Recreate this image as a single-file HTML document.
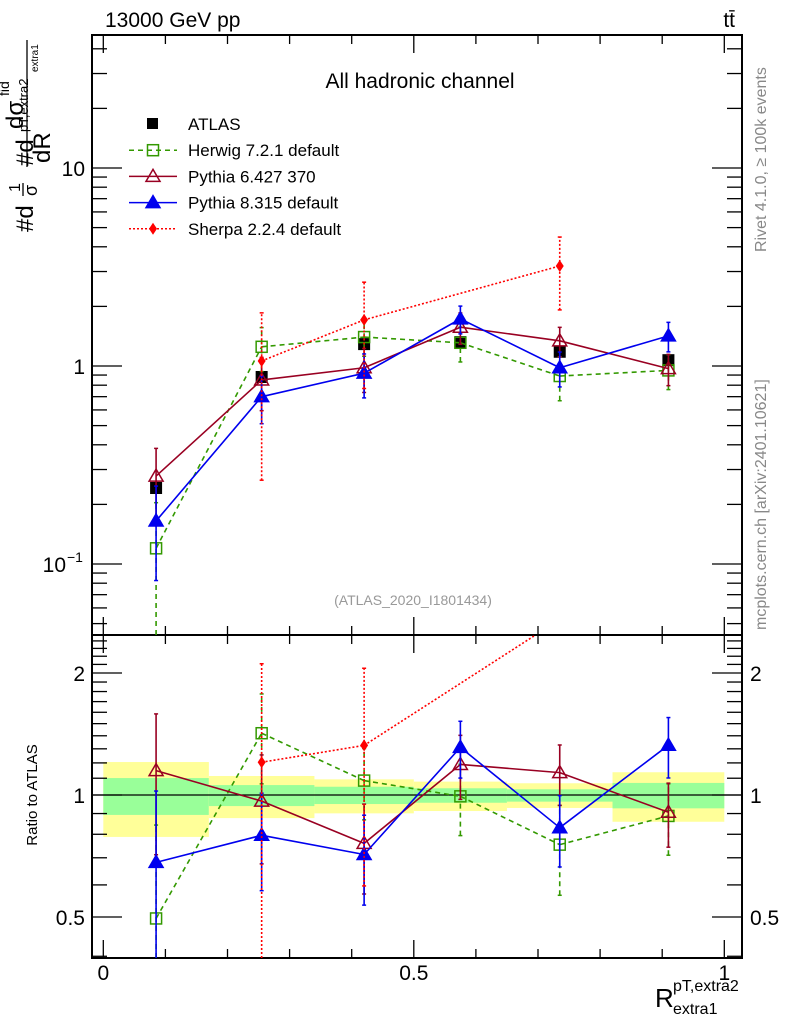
<!DOCTYPE html>
<html><head><meta charset="utf-8"><style>
html,body{margin:0;background:#fff;overflow:hidden;width:786px;height:1024px;}
svg{display:block;font-family:"Liberation Sans",sans-serif;}
</style></head><body>
<svg id="c" width="786" height="1024" viewBox="0 0 786 1024" xmlns="http://www.w3.org/2000/svg"></svg>
<script>
const xEdges=[0,0.17,0.34,0.5,0.65,0.82,1.0];
const xCenters=[0.085,0.255,0.42,0.575,0.735,0.91];
const atlasVals=[0.242,0.88,1.29,1.32,1.18,1.07];
const herwigVals=[0.12,1.25,1.40,1.31,0.89,0.95];
const herwigErr=[0.7,0.25,0.2,0.2,0.25,0.2];
const py6Vals=[0.278,0.85,0.98,1.57,1.34,0.97];
const py6Err=[0.38,0.3,0.25,0.18,0.17,0.18];
const py8Vals=[0.165,0.70,0.92,1.73,0.98,1.42];
const py8Err=[0.5,0.27,0.25,0.16,0.2,0.17];
const sherpaIdx=[1,2,4];
const sherpaVals=[1.06,1.71,3.2];
const sherpaErr=[0.75,0.55,0.4];
const bandYellowHi=[1.206,1.114,1.093,1.079,1.069,1.138];
const bandYellowLo=[0.788,0.877,0.901,0.913,0.929,0.859];
const bandGreenHi=[1.101,1.058,1.048,1.039,1.033,1.071];
const bandGreenLo=[0.893,0.939,0.950,0.957,0.963,0.927];
const xTickLabels=["0","0.5","1"];

const L=92,R=742,T=35,MB=635,B=958;
const X=v=>103.3+621*v;
const Ymain=v=>366-198*Math.log10(v);
const Yrat=v=>795-122*Math.log2(v);
const clampY=(y,a,b)=>Math.max(a,Math.min(b,y));
const NS="http://www.w3.org/2000/svg";
const svg=document.getElementById('c');
function el(tag,attrs,parent){const e=document.createElementNS(NS,tag);for(const k in attrs)e.setAttribute(k,attrs[k]);(parent||svg).appendChild(e);return e;}
function txt(s,attrs,parent){const e=el('text',attrs,parent);e.textContent=s;return e;}

const defs=el('defs',{});
const c1=el('clipPath',{id:'cm'},defs);el('rect',{x:L,y:T,width:R-L,height:MB-T},c1);
const c2=el('clipPath',{id:'cr'},defs);el('rect',{x:L,y:MB,width:R-L,height:B-MB},c2);

const bands=el('g',{'clip-path':'url(#cr)'});


for(let i=0;i<6;i++){
  const y=el('rect',{x:X(xEdges[i]),y:Yrat(bandYellowHi[i]),width:X(xEdges[i+1])-X(xEdges[i]),height:Yrat(bandYellowLo[i])-Yrat(bandYellowHi[i]),fill:'#ffff99'},bands);
  
  
  const g=el('rect',{x:X(xEdges[i]),y:Yrat(bandGreenHi[i]),width:X(xEdges[i+1])-X(xEdges[i]),height:Yrat(bandGreenLo[i])-Yrat(bandGreenHi[i]),fill:'#99ff99'},bands);
  
  
}
el('line',{x1:L,x2:R,y1:Yrat(1),y2:Yrat(1),stroke:'#000','stroke-width':1.2},bands);

function frame(top,bot,name){
  const f=el('rect',{x:L,y:top,width:R-L,height:bot-top,fill:'none',stroke:'#000','stroke-width':2});
  
  
  for(let k=0;k<=10;k++){
    const xv=X(k/10),len=(k%5==0)?18:9;
    el('line',{x1:xv,x2:xv,y1:bot,y2:bot-len,stroke:'#000','stroke-width':1.3});
    el('line',{x1:xv,x2:xv,y1:top,y2:top+len,stroke:'#000','stroke-width':1.3});
  }
}
frame(T,MB,'main-plot-frame');frame(MB,B,'ratio-plot-frame');
for(let d=-2;d<=1;d++){for(let m=1;m<=9;m++){const v=m*Math.pow(10,d);const y=Ymain(v);if(y<T||y>MB)continue;const len=m==1?30:15;
 el('line',{x1:L,x2:L+len,y1:y,y2:y,stroke:'#000','stroke-width':1.3});el('line',{x1:R,x2:R-len,y1:y,y2:y,stroke:'#000','stroke-width':1.3});}}
for(let v=0.4;v<=2.5;v+=0.1){const y=Yrat(v);if(y<MB||y>B)continue;const maj=Math.abs(v-1)<1e-6||Math.abs(v-2)<1e-6||Math.abs(v-0.5)<1e-6;const len=maj?30:15;
 el('line',{x1:L,x2:L+len,y1:y,y2:y,stroke:'#000','stroke-width':1.3});el('line',{x1:R,x2:R-len,y1:y,y2:y,stroke:'#000','stroke-width':1.3});}

const yl=el('g',{'font-size':21});


txt('10',{x:85,y:Ymain(10)+8,'text-anchor':'end'},yl);
txt('1',{x:85,y:Ymain(1)+8,'text-anchor':'end'},yl);
txt('10',{x:66,y:Ymain(0.1)+8,'text-anchor':'end'},yl);
txt('−1',{x:67,y:Ymain(0.1)-2,'font-size':14},yl);
txt('2',{x:85,y:Yrat(2)+8,'text-anchor':'end'},yl);
txt('1',{x:85,y:Yrat(1)+8,'text-anchor':'end'},yl);
txt('0.5',{x:85,y:Yrat(0.5)+8,'text-anchor':'end'},yl);
txt('2',{x:750,y:Yrat(2)+8},yl);
txt('1',{x:750,y:Yrat(1)+8},yl);
txt('0.5',{x:750,y:Yrat(0.5)+8},yl);
const xl=el('g',{'font-size':21,'text-anchor':'middle'});


[0,0.5,1].forEach((v,i)=>txt(xTickLabels[i],{x:X(v),y:980},xl));

function drawSeries(name,idx,vals,err,color,dash,marker,Y,clip,isRatio,yMin,yMax){
  const g=el('g',{'clip-path':clip});
  
  
  const pts=idx.map((b,i)=>{const v=isRatio?vals[i]/atlasVals[b]:vals[i];return [X(xCenters[b]),Y(v),v];});
  // line segments clipped to panel range
  const lp=[];
  for(let i=0;i<pts.length;i++){
    const p=pts[i];
    if(i>0){const q=pts[i-1];
      let x1=q[0],y1=q[1],x2=p[0],y2=p[1];
      const fit=(xa,ya,xb,yb,yy)=>xa+(xb-xa)*(yy-ya)/(yb-ya);
      if(y2<yMin){x2=fit(x1,y1,x2,y2,yMin);y2=yMin;}
      if(y1<yMin){x1=fit(x1,y1,p[0],p[1],yMin);y1=yMin;}
      if(y2>yMax){x2=fit(x1,y1,x2,y2,yMax);y2=yMax;}
      if(y1>yMax){x1=fit(q[0],q[1],p[0],p[1],yMax);y1=yMax;}
      lp.push(`M${x1},${y1}L${x2},${y2}`);
    }
  }
  const pl=el('path',{d:lp.join(''),fill:'none',stroke:color,'stroke-width':1.6,'stroke-dasharray':dash},g);
  
  
  pts.forEach((p,i)=>{
    if(p[1]<yMin||p[1]>yMax)return;
    const lo=clampY(Y(p[2]*Math.max(1-err[i],0.01)),yMin,yMax),hi=clampY(Y(p[2]*(1+err[i])),yMin,yMax);
    el('line',{x1:p[0],x2:p[0],y1:lo,y2:hi,stroke:color,'stroke-width':1.6,'stroke-dasharray':dash},g);
    if(lo<yMax)el('line',{x1:p[0]-2,x2:p[0]+2,y1:lo,y2:lo,stroke:color,'stroke-width':1.5},g);
    if(hi>yMin)el('line',{x1:p[0]-2,x2:p[0]+2,y1:hi,y2:hi,stroke:color,'stroke-width':1.5},g);
    const m=marker(p[0],p[1],g);
    
    
  });
}
const sq=(c,fill)=>(x,y,g)=>el('rect',{x:x-5.5,y:y-5.5,width:11,height:11,fill:fill,stroke:c,'stroke-width':1.5},g);
const tri=(c,fill)=>(x,y,g)=>el('polygon',{points:`${x},${y-7} ${x-7},${y+5} ${x+7},${y+5}`,fill:fill,stroke:c,'stroke-width':1.5},g);
const dia=c=>(x,y,g)=>el('polygon',{points:`${x},${y-6} ${x-4},${y} ${x},${y+6} ${x+4},${y}`,fill:c},g);
const all=[0,1,2,3,4,5];
const ag=el('g',{});


atlasVals.forEach((v,i)=>{const r=el('rect',{x:X(xCenters[i])-6,y:Ymain(v)-6,width:12,height:12,fill:'#000'},ag);
 
 });
[['main','#cm',Ymain,false,T,MB],['ratio','#cr',Yrat,true,MB,B]].forEach(([n,c,Y,r,a,b])=>{
  drawSeries('herwig-'+n,all,herwigVals,herwigErr,'#339900','5,4',sq('#339900','none'),Y,`url(${c})`,r,a,b);
  drawSeries('pythia6-'+n,all,py6Vals,py6Err,'#990022','',tri('#990022','none'),Y,`url(${c})`,r,a,b);
  drawSeries('pythia8-'+n,all,py8Vals,py8Err,'#0000ee','',tri('#0000ee','#0000ee'),Y,`url(${c})`,r,a,b);
  drawSeries('sherpa-'+n,sherpaIdx,sherpaVals,sherpaErr,'#ff0000','2,2',dia('#ff0000'),Y,`url(${c})`,r,a,b);
});

const lg=el('g',{'font-size':17});


const ent=[['ATLAS'],['Herwig 7.2.1 default','#339900','5,4',sq('#339900','none')],['Pythia 6.427 370','#990022','',tri('#990022','none')],['Pythia 8.315 default','#0000ee','',tri('#0000ee','#0000ee')],['Sherpa 2.2.4 default','#ff0000','2,2',dia('#ff0000')]];
ent.forEach((e,i)=>{const y=124+i*26.2;const g=el('g',{},lg);
 
 
 if(i==0)el('rect',{x:147,y:y-6,width:11,height:11,fill:'#000'},g);
 else{el('line',{x1:129,x2:177,y1:y,y2:y,stroke:e[1],'stroke-width':1.5,'stroke-dasharray':e[2]},g);e[3](153,y,g);}
 txt(e[0],{x:188,y:y+6},g);});

const title=txt('13000 GeV pp',{x:105,y:27,'font-size':21});


const tt=txt('tt̄',{x:735,y:27,'font-size':21,'text-anchor':'end'});


const ch=txt('All hadronic channel',{x:420,y:88,'font-size':21,'text-anchor':'middle'});


const an=txt('(ATLAS_2020_I1801434)',{x:413,y:605,'font-size':14,fill:'#999','text-anchor':'middle'});


const rv=txt('Rivet 4.1.0, ≥ 100k events',{x:0,y:0,'font-size':16,fill:'#888',transform:'translate(766,252) rotate(-90)'});


const mc=txt('mcplots.cern.ch [arXiv:2401.10621]',{x:0,y:0,'font-size':16,fill:'#888',transform:'translate(766,630) rotate(-90)'});


const rl=txt('Ratio to ATLAS',{x:0,y:0,'font-size':15,'text-anchor':'middle',transform:'translate(37,795) rotate(-90)'});


const yt=el('g',{});


txt('#d',{x:0,y:0,'font-size':24,transform:'translate(33,232) rotate(-90)'},yt);
txt('1',{x:0,y:0,'font-size':16,transform:'translate(20,192) rotate(-90)'},yt);
el('line',{x1:23,x2:23,y1:196,y2:183,stroke:'#000','stroke-width':1.3},yt);
txt('σ',{x:0,y:0,'font-size':18,transform:'translate(37,196) rotate(-90)'},yt);
txt('#d',{x:0,y:0,'font-size':24,transform:'translate(33,166) rotate(-90)'},yt);
txt('dσ',{x:0,y:0,'font-size':24,transform:'translate(23,129) rotate(-90)'},yt);
txt('fid',{x:0,y:0,'font-size':14,transform:'translate(9,96) rotate(-90)'},yt);
el('line',{x1:27,x2:27,y1:167,y2:40,stroke:'#000','stroke-width':1.3},yt);
txt('dR',{x:0,y:0,'font-size':24,transform:'translate(50,163) rotate(-90)'},yt);
txt('pT,extra2',{x:0,y:0,'font-size':13,transform:'translate(28,132) rotate(-90)'},yt);
txt('extra1',{x:0,y:0,'font-size':10,transform:'translate(38,72) rotate(-90)'},yt);
const xt=el('g',{});


txt('R',{x:655,y:1007,'font-size':26},xt);
txt('pT,extra2',{x:673,y:991,'font-size':16},xt);
txt('extra1',{x:673,y:1014,'font-size':16},xt);
</script>
</body></html>
